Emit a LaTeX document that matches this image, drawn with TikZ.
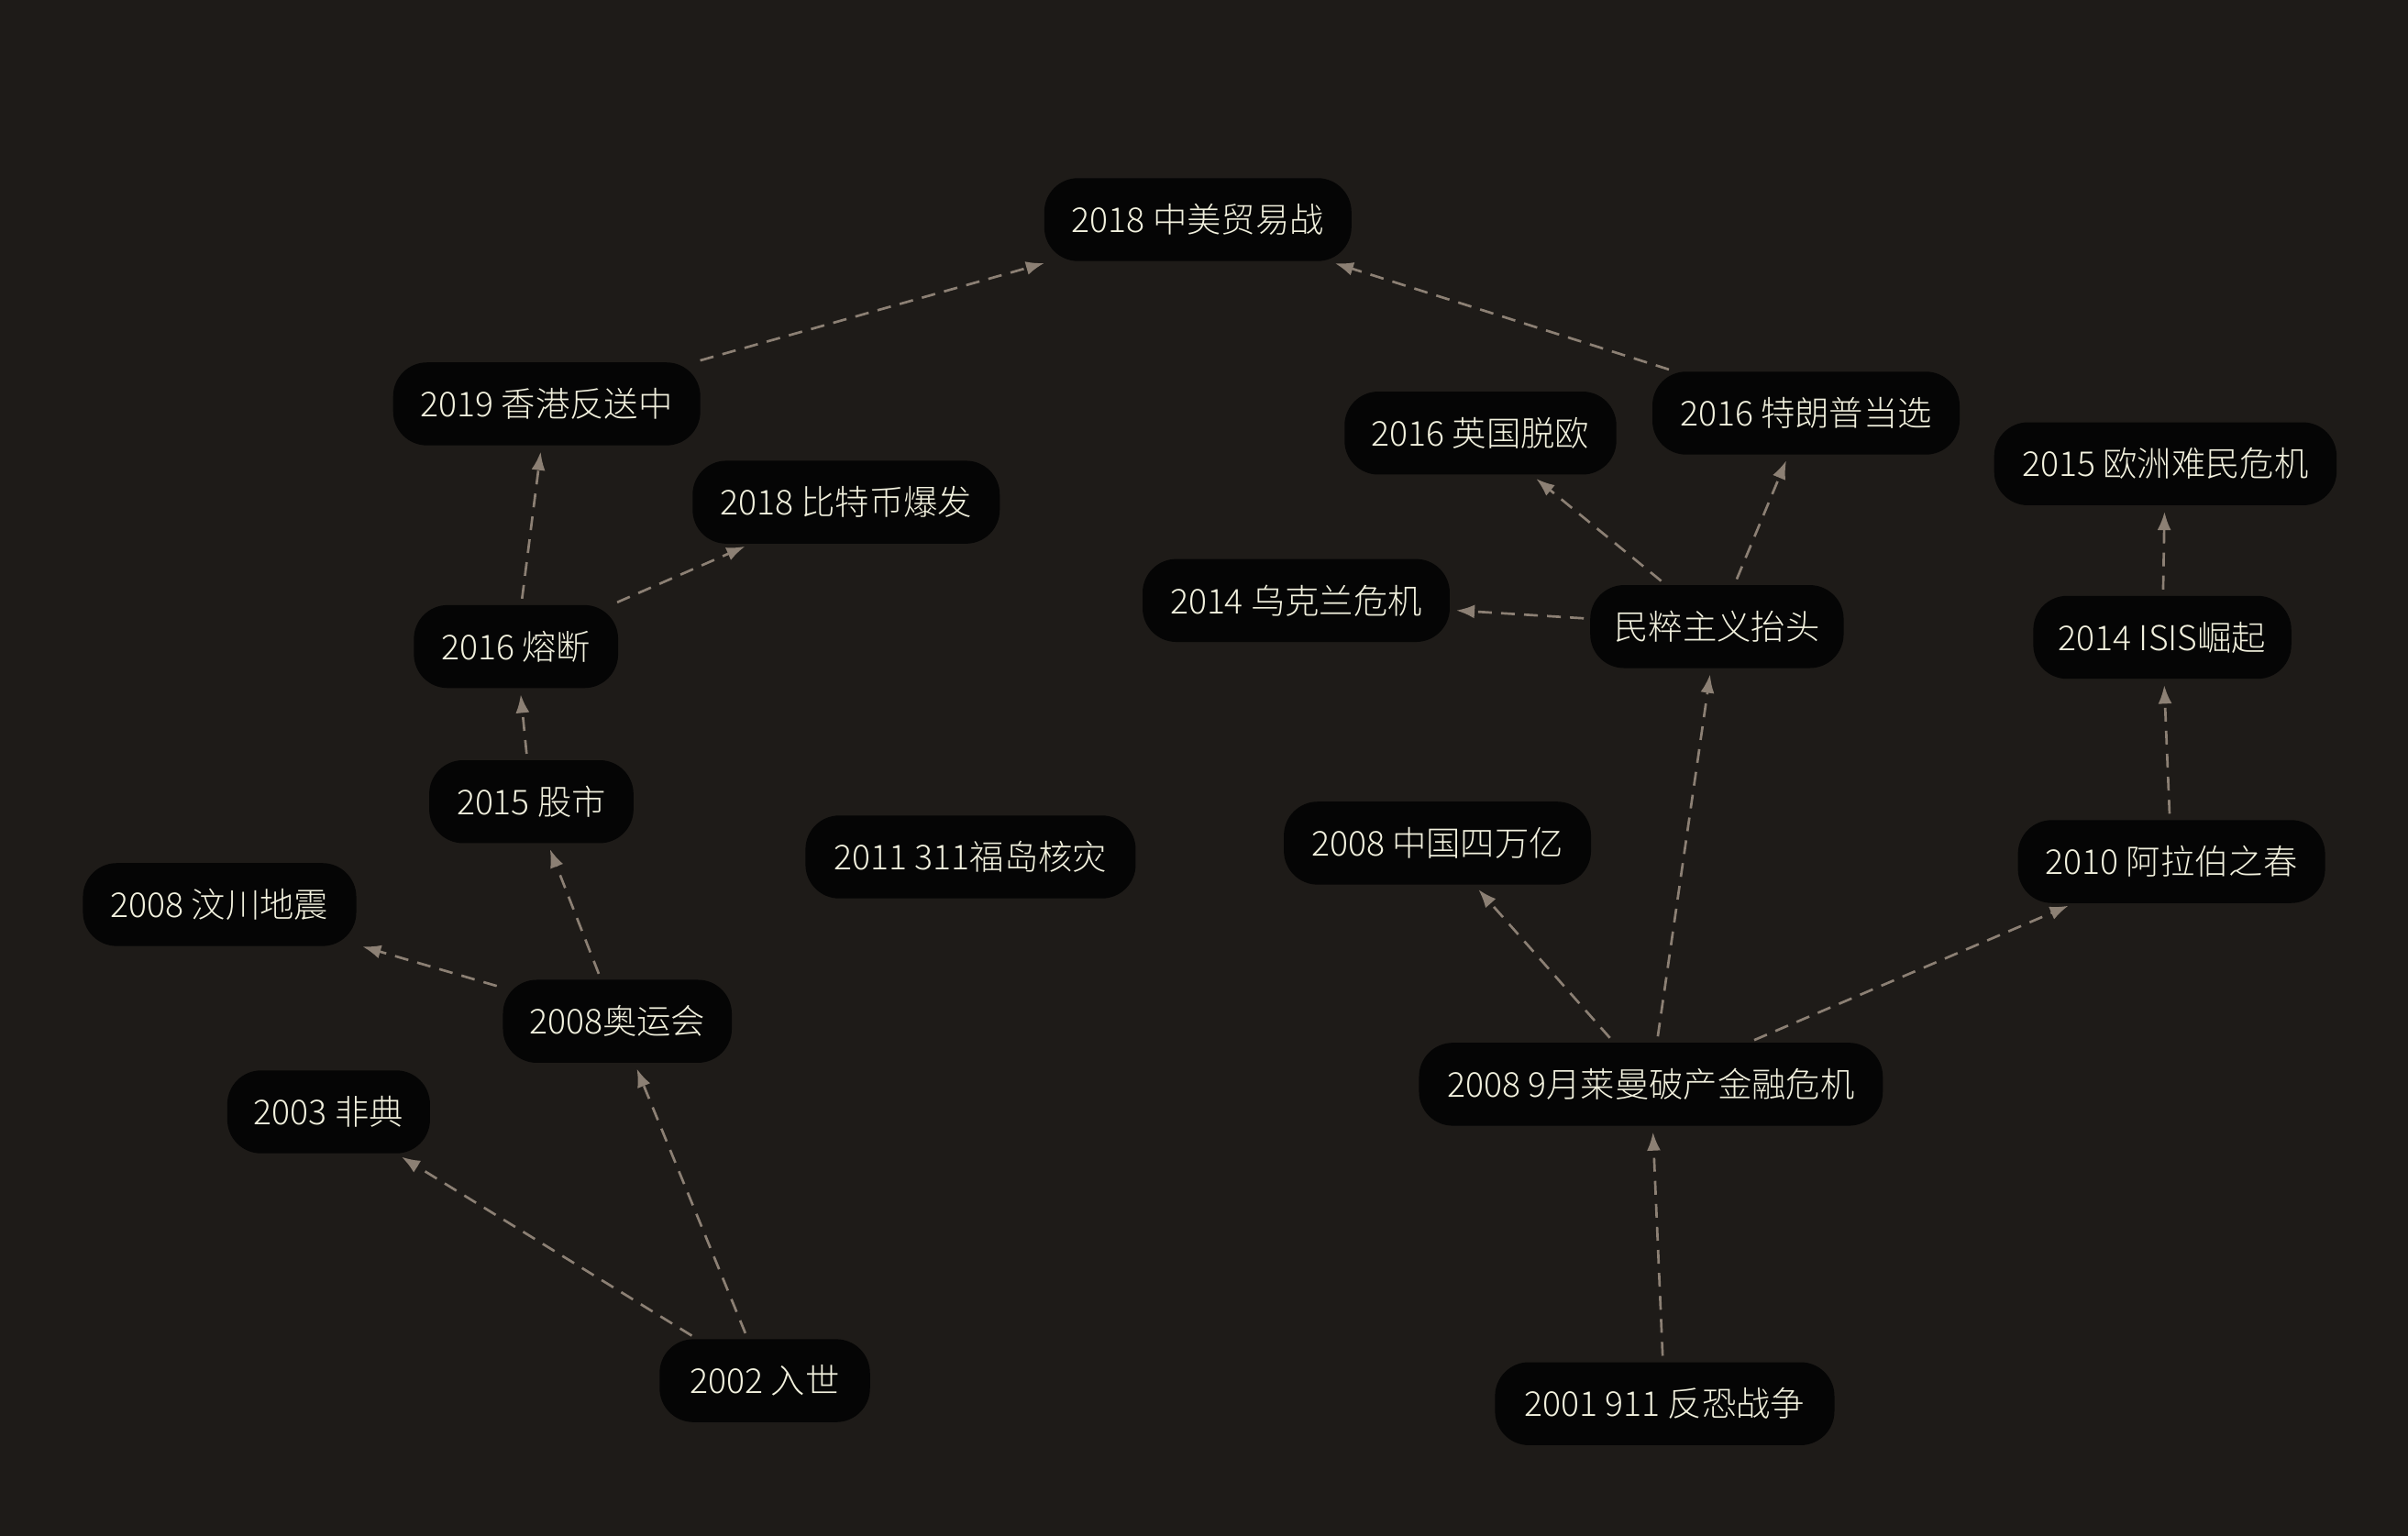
\documentclass[tikz,border=0pt]{standalone}
\usepackage{fontspec}
\setmainfont{Noto Sans CJK SC}[UprightFont=* Light]
\usetikzlibrary{arrows.meta}
\definecolor{bgc}{HTML}{1E1B18}
\definecolor{nodefill}{HTML}{050505}
\definecolor{txt}{HTML}{F2F1DE}
\definecolor{edgec}{HTML}{8C8074}
\tikzset{
  ev/.style={fill=nodefill, text=txt, rounded corners=22pt, minimum height=54pt,
    inner xsep=8pt, inner ysep=0pt, font=\fontsize{22.3}{25}\selectfont},
  link/.style={draw=edgec, line width=1.6pt, dash pattern=on 9pt off 6pt,
    -{Latex[length=12pt,width=9pt]}, shorten >=4pt, shorten <=4pt}
}
\begin{document}
\begin{tikzpicture}[x=1pt,y=-1pt]
\fill[bgc] (0,0) rectangle (1568,1000);
\useasboundingbox (0,0) rectangle (1568,1000);
% left cluster
\node[ev, minimum width=200pt] (trade) at (780,143) {2018 中美贸易战};
\node[ev, minimum width=200pt] (hk) at (356,263) {2019 香港反送中};
\node[ev, minimum width=200pt] (btc) at (551,327) {2018 比特币爆发};
\node[ev, minimum width=133pt] (rd) at (336,421) {2016 熔断};
\node[ev, minimum width=133pt] (stock) at (346,522) {2015 股市};
\node[ev, minimum width=215pt] (fuk) at (632,558) {2011 311福岛核灾};
\node[ev, minimum width=178pt] (wc) at (143,589) {2008 汶川地震};
\node[ev, minimum width=149pt] (oly) at (402,665) {2008奥运会};
\node[ev, minimum width=132pt] (sars) at (214,724) {2003 非典};
\node[ev, minimum width=137pt] (wto) at (498,899) {2002 入世};
% right cluster
\node[ev, minimum width=177pt] (brexit) at (964,282) {2016 英国脱欧};
\node[ev, minimum width=200pt] (trump) at (1176,269) {2016 特朗普当选};
\node[ev, minimum width=223pt] (eu) at (1410,302) {2015 欧洲难民危机};
\node[ev, minimum width=200pt] (ukr) at (844,391) {2014 乌克兰危机};
\node[ev, minimum width=165pt] (pop) at (1118,408) {民粹主义抬头};
\node[ev, minimum width=168pt] (isis) at (1408,415) {2014 ISIS崛起};
\node[ev, minimum width=200pt] (four) at (936,549) {2008 中国四万亿};
\node[ev, minimum width=200pt] (arab) at (1414,561) {2010 阿拉伯之春};
\node[ev, minimum width=302pt] (leh) at (1075,706) {2008 9月莱曼破产金融危机};
\node[ev, minimum width=221pt] (war) at (1084,914) {2001 911 反恐战争};
% connectors
\draw[link] (hk) -- (trade);
\draw[link] (trump) -- (trade);
\draw[link] (rd) -- (hk);
\draw[link] (rd) -- (btc);
\draw[link] (stock) -- (rd);
\draw[link] (oly) -- (stock);
\draw[link] (oly) -- (wc);
\draw[link] (wto) -- (oly);
\draw[link] (wto) -- (sars);
\draw[link] (pop) -- (ukr);
\draw[link] (pop) -- (brexit);
\draw[link] (pop) -- (trump);
\draw[link] (isis) -- (eu);
\draw[link] (arab) -- (isis);
\draw[link] (leh) -- (pop);
\draw[link] (leh) -- (four);
\draw[link] (leh) -- (arab);
\draw[link] (war) -- (leh);
\end{tikzpicture}
\end{document}
